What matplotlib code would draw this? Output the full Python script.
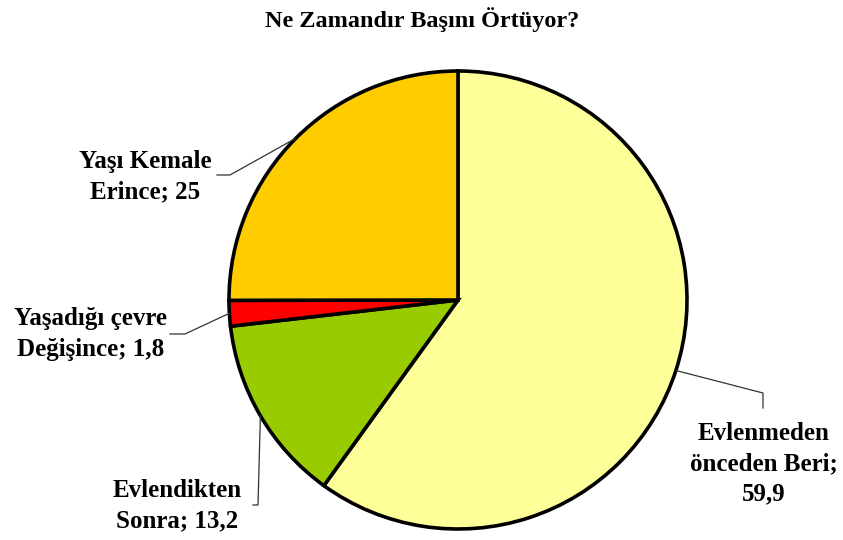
import matplotlib.pyplot as plt
import numpy as np

# data
labels = ['Evlenmeden\nönceden Beri;\n', 'Evlendikten\nSonra; ', 'Yaşadığı çevre\nDeğişince; ', 'Yaşı Kemale\nErince; ']
values = [59.9, 13.2, 1.8, 25]
value_text = ['59,9', '13,2', '1,8', '25']
colors = ['#FFFF99', '#99CC00', '#FF0000', '#FFCC00']

W, H = 843, 540
fig = plt.figure(figsize=(W / 100, H / 100), dpi=100)
ax = fig.add_axes([0, 0, 1, 1])

cx, cy, r = 458, H - 300, 229
wedges, _ = ax.pie(values, colors=colors, startangle=90, counterclock=False,
                   center=(cx, cy), radius=r, frame=True,
                   wedgeprops=dict(edgecolor='black', linewidth=2.6))
ax.set_xlim(0, W)
ax.set_ylim(0, H)
ax.set_aspect('equal')
ax.axis('off')

font = dict(family='Liberation Serif', fontweight='bold', fontsize=18)

# label layout: text centre, then elbow and end of leader line (pixels from top)
layout = [
    ((764, 464), [(763, 393), (763, 408)]),
    ((177, 506), [(258, 505), (253, 505)]),
    ((91, 334), [(185, 334), (170, 334)]),
    ((145, 177), [(230, 175), (217, 175)]),
]

for w, lab, vt, (tp, pts) in zip(wedges, labels, value_text, layout):
    mid = np.deg2rad((w.theta1 + w.theta2) / 2)
    xs = [cx + r * np.cos(mid)] + [p[0] for p in pts]
    ys = [cy + r * np.sin(mid)] + [H - p[1] for p in pts]
    ax.plot(xs, ys, color='#333333', lw=0.9, zorder=1)
    ax.text(tp[0], H - tp[1], lab + vt, ha='center', va='center',
            linespacing=1.4, **font)

ax.text(422, H - 20, 'Ne Zamandır Başını Örtüyor?', ha='center', va='center',
        family='Liberation Serif', fontweight='bold', fontsize=17.5)

fig.savefig('out.png', dpi=100)
